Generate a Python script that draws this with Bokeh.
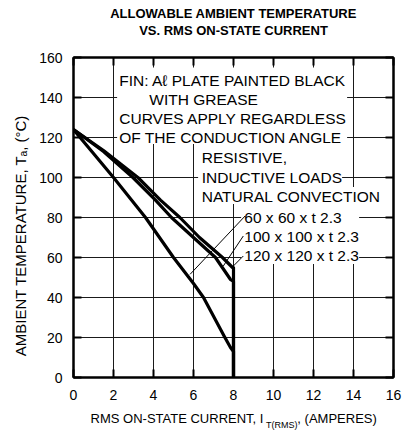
from bokeh.plotting import figure
from bokeh.models import Range1d, FixedTicker, LinearAxis, Label, BoxAnnotation, Title
from bokeh.embed import file_html
from bokeh.resources import INLINE

# ---- data ----
x_ticks = [0, 2, 4, 6, 8, 10, 12, 14, 16]
y_ticks = [0, 20, 40, 60, 80, 100, 120, 140, 160]

# 60 x 60 x t2.3 fin
x60 = [0, 1.0, 2.0, 3.6, 5.0, 6.0, 6.5, 7.57, 7.85, 8.0, 8.0]
t60 = [124, 112, 100, 80, 60, 47, 40, 20, 15, 13, 0]
# 100 x 100 x t2.3 fin
x100 = [0, 1.5, 2.97, 4.1, 4.9, 6.0, 7.1, 7.85, 8.0, 8.0]
t100 = [124, 113, 100, 88.7, 80, 70, 60, 49, 48, 0]
# 120 x 120 x t2.3 fin
x120 = [0, 1.5, 3.22, 4.35, 5.32, 6.3, 7.45, 7.95, 8.0, 8.0]
t120 = [124, 113.5, 100, 88.7, 80, 70, 60, 55, 55, 0]

series_labels = ["60 x 60 x t 2.3", "100 x 100 x t 2.3", "120 x 120 x t 2.3"]
title_lines = ["ALLOWABLE AMBIENT TEMPERATURE", "VS. RMS ON-STATE CURRENT"]
x_title = ["RMS ON-STATE CURRENT, I", "T(RMS)", ", (AMPERES)"]
y_title = "AMBIENT TEMPERATURE, T\u2090, (\u00b0C)"

FONT = "Liberation Sans"

p = figure(width=406, height=432, output_backend="svg", toolbar_location=None, title=None,
           x_range=Range1d(0, 16), y_range=Range1d(0, 160),
           frame_width=320, frame_height=320,
           min_border_left=73, min_border_right=13, min_border_top=57, min_border_bottom=55)
p.background_fill_color = "white"
p.border_fill_color = "white"
p.outline_line_color = "black"
p.outline_line_width = 2

# grid
p.xgrid.ticker = FixedTicker(ticks=x_ticks)
p.ygrid.ticker = FixedTicker(ticks=y_ticks)
for g in (p.xgrid, p.ygrid):
    g.grid_line_color = "#1a1a1a"
    g.grid_line_width = 1

def style_axis(ax, labels=True):
    ax.axis_line_color = "black"
    ax.axis_line_width = 2
    ax.major_tick_in = 8
    ax.major_tick_out = 0
    ax.major_tick_line_width = 2
    ax.major_tick_line_color = "black"
    ax.minor_tick_line_color = None
    if labels:
        ax.major_label_text_font = FONT
        ax.major_label_text_font_size = "14px"
        ax.major_label_text_color = "black"
    else:
        ax.major_label_overrides = {t: "" for t in ax.ticker.ticks}
        ax.major_label_text_font_size = "1px"
        ax.major_label_standoff = 0

p.xaxis.ticker = FixedTicker(ticks=x_ticks)
p.yaxis.ticker = FixedTicker(ticks=y_ticks)
style_axis(p.xaxis[0])
style_axis(p.yaxis[0])
p.xaxis.major_label_standoff = 12
p.yaxis.major_label_standoff = 11

top_ax = LinearAxis(ticker=FixedTicker(ticks=x_ticks))
right_ax = LinearAxis(ticker=FixedTicker(ticks=y_ticks))
style_axis(top_ax, labels=False)
style_axis(right_ax, labels=False)
p.add_layout(top_ax, "above")
p.add_layout(right_ax, "right")

def text_axis(positions, texts, size, standoff, orientation="horizontal"):
    ax = LinearAxis(ticker=FixedTicker(ticks=positions),
                    major_label_overrides={pos: t for pos, t in zip(positions, texts)})
    ax.axis_line_color = None
    ax.major_tick_line_color = None
    ax.minor_tick_line_color = None
    ax.major_tick_in = 0
    ax.major_tick_out = 0
    ax.major_label_text_font = FONT
    ax.major_label_text_font_size = size
    ax.major_label_text_color = "black"
    ax.major_label_standoff = standoff
    ax.major_label_orientation = orientation
    return ax

# x axis title (main text + subscript)
p.add_layout(text_axis([5.175, 13.18], [x_title[0], x_title[2]], "13px", 8), "below")
p.add_layout(text_axis([10.41], [x_title[1]], "9px", -9), "below")
# y axis title
p.add_layout(text_axis([71.0], [y_title], "15px", 8, orientation="vertical"), "left")

# chart title (two lines)
p.add_layout(Title(text=title_lines[1], align="center", text_font=FONT, text_font_size="13px",
                   text_font_style="bold", text_color="black", standoff=40), "above")
p.add_layout(Title(text=title_lines[0], align="center", text_font=FONT, text_font_size="13px",
                   text_font_style="bold", text_color="black", standoff=-40), "above")

# white areas behind the annotation texts (hide the grid)
white_boxes = [
    (2.18, 13.68, 155.0, 116.75),
    (6.23, 13.43, 116.75, 95.25),
    (6.23, 15.23, 95.25, 86.75),
    (8.38, 14.28, 86.75, 56.75),
]
for l, r, t, b in white_boxes:
    p.add_layout(BoxAnnotation(left=l, right=r, top=t, bottom=b,
                               fill_color="white", fill_alpha=1.0, line_color=None))

# curves
for xs, ts in ((x60, t60), (x100, t100), (x120, t120)):
    p.line(xs, ts, line_color="black", line_width=3.2, line_join="round")

# leader lines
lead_x0 = [8.58, 8.49, 8.49]
lead_y0 = [80.75, 70.75, 60.75]
lead_x1 = [5.83, 7.49, 7.91]
lead_y1 = [51.6, 55.75, 54.9]
p.segment(lead_x0, lead_y0, lead_x1, lead_y1, line_color="black", line_width=1, level="overlay")

def add_text(x, y, text, size="15.5px"):
    p.add_layout(Label(x=x, y=y, text=text, text_font=FONT, text_font_size=size,
                       text_align="left", text_baseline="middle", text_color="black"))

# note texts
add_text(2.29, 148.6, "FIN: A\u2113 PLATE PAINTED BLACK")
add_text(3.79, 139.1, "WITH GREASE")
add_text(2.29, 129.6, "CURVES APPLY REGARDLESS")
add_text(2.29, 119.9, "OF THE CONDUCTION ANGLE")
add_text(6.41, 109.9, "RESISTIVE,")
add_text(6.41, 100.25, "INDUCTIVE LOADS")
add_text(6.41, 90.75, "NATURAL CONVECTION")
for lbl, yy in zip(series_labels, [79.9, 70.4, 61.1]):
    add_text(8.54, yy, lbl)

open("out.html", "w").write(file_html(p, INLINE))
